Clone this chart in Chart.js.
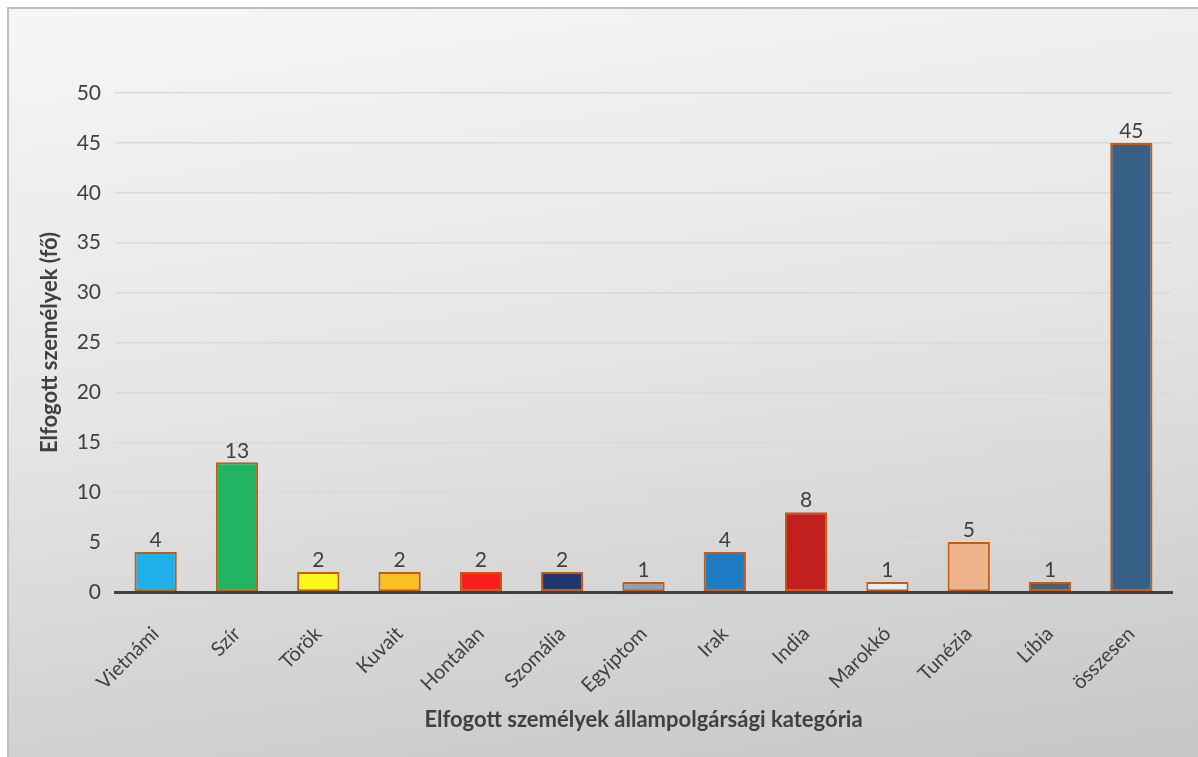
<!DOCTYPE html>
<html>
<head>
<meta charset="utf-8">
<script src="https://cdn.jsdelivr.net/npm/chart.js@4"></script>
<style>
  html, body { margin: 0; padding: 0; background: #fff; overflow: hidden; }
  #frame {
    position: absolute; left: 7px; top: 7px;
    width: 1189px; height: 748px;
    border-left: 2px solid #bfbfbf; border-top: 2px solid #bfbfbf;
    background: linear-gradient(172deg, #f6f6f6 0%, #e6e6e6 45%, #d2d2d2 80%, #c6c6c6 100%);
  }
  #chart { display: block; }
</style>
</head>
<body>
<div id="frame"><canvas id="chart" width="1189" height="748"></canvas></div>
<script>
// Kategóriák és értékek
const kategoriak = ['Vietnámi', 'Szír', 'Török', 'Kuvait', 'Hontalan', 'Szomália', 'Egyiptom',
                    'Irak', 'India', 'Marokkó', 'Tunézia', 'Líbia', 'összesen'];
const elfogottak = [4, 13, 2, 2, 2, 2, 1, 4, 8, 1, 5, 1, 45];
const oszlopSzinek = ['#1fb0ea', '#21b462', '#f8f81c', '#f8c022', '#f81f1f', '#1f3870', '#8ea0b8',
                      '#1f7cc4', '#c21f1f', '#e8eef4', '#f0b48c', '#4e5f70', '#366085'];

const betu = 'Lato, "Open Sans", sans-serif';
const szurke = '#404040';

// Értékcímkék az oszlopok fölé
const ertekCimkek = {
    id: 'ertekCimkek',
    afterDatasetsDraw(chart) {
        const ctx = chart.ctx;
        const meta = chart.getDatasetMeta(0);
        ctx.save();
        ctx.font = '21px ' + betu;
        ctx.fillStyle = szurke;
        ctx.textAlign = 'center';
        ctx.textBaseline = 'bottom';
        meta.data.forEach((bar, i) => {
            ctx.fillText(String(elfogottak[i]), bar.x, bar.y - 1);
        });
        ctx.restore();
    }
};

new Chart(document.getElementById('chart'), {
    type: 'bar',
    data: {
        labels: kategoriak,
        datasets: [{
            data: elfogottak,
            backgroundColor: oszlopSzinek,
            borderColor: '#c55a11',
            borderWidth: 2,
            borderSkipped: false,
            categoryPercentage: 1,
            barPercentage: 0.52,
        }],
    },
    options: {
        responsive: false,
        animation: false,
        layout: { padding: { top: 84, right: 26, left: 0, bottom: 0 } },
        plugins: {
            legend: { display: false },
            tooltip: { enabled: false },
        },
        scales: {
            x: {
                grid: { display: false },
                border: { display: true, color: szurke, width: 3 },
                ticks: {
                    color: szurke,
                    font: { family: betu, size: 20 },
                    minRotation: 45,
                    maxRotation: 45,
                    padding: 22,
                    labelOffset: 0,
                },
                title: {
                    display: true,
                    text: 'Elfogott személyek állampolgársági kategória',
                    color: szurke,
                    font: { family: betu, size: 22, weight: 'bold' },
                    padding: { top: 0, bottom: 24 },
                },
                afterFit(scale) { scale.height = 165; },
            },
            y: {
                min: 0,
                max: 50,
                ticks: {
                    stepSize: 5,
                    color: szurke,
                    font: { family: betu, size: 21 },
                    padding: 14,
                },
                grid: { color: '#d9d9d9', lineWidth: 1.5, drawTicks: false },
                border: { display: false },
                title: {
                    display: true,
                    text: 'Elfogott személyek (fő)',
                    color: szurke,
                    font: { family: betu, size: 22, weight: 'bold' },
                    padding: { top: 28, bottom: 0 },
                },
                afterFit(scale) { scale.width = 106; },
            },
        },
    },
    plugins: [ertekCimkek],
});
</script>
</body>
</html>
